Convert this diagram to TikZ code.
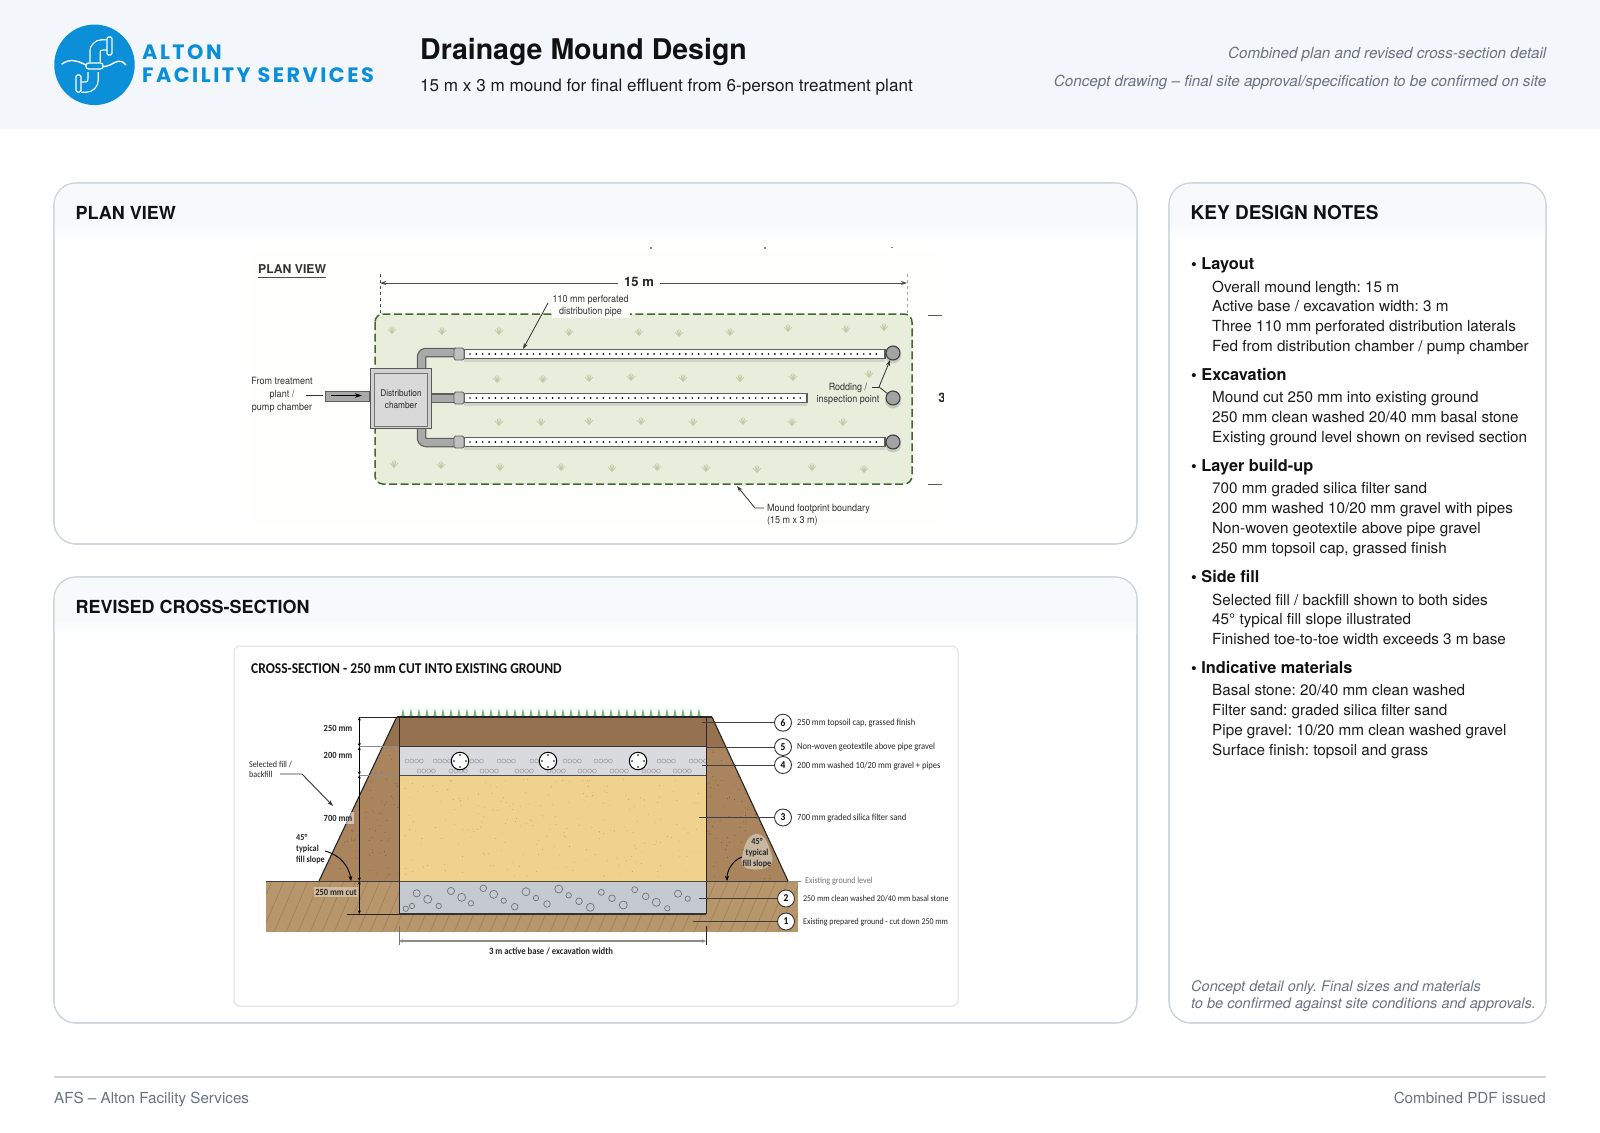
\documentclass[tikz,border=0pt]{standalone}
\usepackage{fontspec}
\setmainfont{TeX Gyre Heros}
\frenchspacing
\newfontfamily\carl[FakeStretch=0.9]{Carlito}
\newfontfamily\imgf[FakeStretch=0.9]{TeX Gyre Heros}
\newfontfamily\logof[LetterSpace=12]{Poppins}
\usetikzlibrary{arrows.meta,calc}
\definecolor{hdrbg}{HTML}{F3F7FB}
\definecolor{panelline}{HTML}{CBD2DA}
\definecolor{bandbg}{HTML}{F7F9FB}
\definecolor{ink}{HTML}{111111}
\definecolor{body}{HTML}{1C1C1C}
\definecolor{greytx}{HTML}{6B7280}
\definecolor{logoblue}{HTML}{0B8FD8}
\definecolor{moundg}{HTML}{E8EDDC}
\definecolor{moundb}{HTML}{3F6A2A}
\definecolor{tuft}{HTML}{BECBA3}
\definecolor{pipeg}{HTML}{A9A9A9}
\definecolor{pipeo}{HTML}{5E5E5E}
\definecolor{ground}{HTML}{B8966B}
\definecolor{hatchc}{HTML}{9C7C56}
\definecolor{fillb}{HTML}{A9845C}
\definecolor{topsoil}{HTML}{96714F}
\definecolor{gravelc}{HTML}{D8DADD}
\definecolor{sandc}{HTML}{F0D28E}
\definecolor{basalc}{HTML}{C5CAD0}
\definecolor{dimc}{HTML}{333333}
\definecolor{offw}{HTML}{FEFEFD}
\newcommand{\fz}[1]{\fontsize{#1}{#1}\selectfont}
\newcommand{\Tuft}[2]{\begin{scope}[shift={(#1,#2)}]
 \draw[tuft,line width=.75] (0,3.5)--(-4,-1) (0,3.5)--(-2,-3) (0,3.5)--(0,-4) (0,3.5)--(2,-3) (0,3.5)--(4,-1);
 \end{scope}}
\newcommand{\ChainG}[2]{\foreach \k in {0,1,2,3} \draw[gray!75,line width=.55] ({#1+2+\k*4.8},#2) circle (2);}
\newcommand{\Pperf}[3]{% lateral: end x, y, name
 \fill[black,opacity=.10] (464,#2-1) rectangle (#1,#2+8);
 \node[pipeb,minimum width=#1-464,anchor=west] (#3) at (464,#2) {};
 \foreach \px in {470,476.35,...,#1} {\ifdim\px pt<\dimexpr#1pt-6pt\relax\fill[black] (\px,#2) circle (.95);\fi}
 \node[coupl] (#3c) at (459,#2) {};
}
\newcommand{\Rod}[3]{\fill[black,opacity=.14] (893,#1+2.5) circle (8);
 \node[rodp] (#2) at (893,#1) {};}
\newcommand{\NH}[3]{\node[noteh] (#1) at (1191,#2) {•\ \ignorespaces#3};}
\newcommand{\NL}[3]{\node[notet] (#1) at (1212,#2) {#3};}
\newcommand{\CallC}[4]{\node[callc] (#1) at (#2,#3) {#4};}
\tikzset{
 panel/.style={draw=panelline,line width=1.1,rounded corners=22,fill=white},
 ptitle/.style={anchor=west,font=\bfseries\fz{18},text=ink,inner sep=0},
 noteh/.style={anchor=base west,yshift=-5.7pt,font=\bfseries\fz{16.3},text=ink,inner sep=0},
 notet/.style={anchor=base west,yshift=-5.4pt,font=\fz{15.25},text=body,inner sep=0},
 imgt/.style={font=\imgf\fz{10},text=black!80,inner sep=0,align=center},
 seclab/.style={font=\carl\bfseries\fz{9.4},text=black!85,inner sep=0,align=center},
 secnote/.style={anchor=west,font=\carl\fz{9.4},text=black!85,inner sep=0},
 callc/.style={circle,draw=black!80,fill=white,line width=.9,minimum size=17,inner sep=0,font=\carl\bfseries\fz{10.5}},
 lead/.style={draw=dimc,line width=.8},
 leadar/.style={draw=dimc,line width=.8,-{Stealth[length=6pt,width=4pt]}},
 dimar/.style={draw=black,line width=.7,{Stealth[length=3.5pt,width=3pt]}-{Stealth[length=3.5pt,width=3pt]}},
 pipeb/.style={draw=pipeo,line width=1.4,fill=white,minimum height=8.5,inner sep=0,outer sep=0},
 coupl/.style={draw=pipeo,line width=.8,fill=black!25,minimum width=10,minimum height=12,rounded corners=1.5,inner sep=0},
 rodp/.style={circle,draw=black!75,line width=1.1,fill=black!36,minimum size=14,inner sep=0},
 pipeo/.style={draw=pipeo,line width=9.5,line join=round,rounded corners=4},
 pipei/.style={draw=pipeg,line width=7,line join=round,rounded corners=4},
 lw/.style={draw=white,line width=1.3,line cap=round,line join=round},
}
\begin{document}
\begin{tikzpicture}[x=1pt,y=-1pt]
\useasboundingbox (0,0) rectangle (1600,1132);
\fill[white] (0,0) rectangle (1600,1132);
% header
\fill[hdrbg] (0,0) rectangle (1600,129);
% logo
\node[circle,fill=logoblue,minimum size=80.5,inner sep=0] (logoc) at (94.5,64.8) {};
\begin{scope}
 \draw[white,line width=11.5,line cap=butt,rounded corners=7] (95,62)--(95,45)--(108,45);
 \draw[logoblue,line width=9,line cap=butt,rounded corners=7] (95,63)--(95,45)--(109,45);
 \draw[white,line width=11.5,line cap=butt,rounded corners=7] (93,72)--(93,87)--(81,87);
 \draw[logoblue,line width=9,line cap=butt,rounded corners=7] (93,71)--(93,87)--(80,87);
 \node[draw=white,fill=logoblue,line width=1.2,minimum width=5,minimum height=18,rounded corners=1.5,inner sep=0] (logof1) at (109.5,46) {};
 \node[draw=white,fill=logoblue,line width=1.2,minimum width=5,minimum height=17,rounded corners=1.5,inner sep=0] (logof2) at (78.5,83.5) {};
 \draw[lw,line width=1.4] (62,64) .. controls (70,58) and (78,61) .. (86,65) .. controls (93,68) and (102,68) .. (110,65) .. controls (116,62) and (120,58) .. (126,65);
 \node[draw=white,fill=logoblue,line width=1.2,minimum width=17,minimum height=6,rounded corners=2.5,inner sep=0] (logof3) at (94.5,66) {};
\end{scope}
\node[anchor=west,inner sep=0,font=\logof\bfseries\fz{20.8},text=logoblue] (alton) at (142,52.5) {ALTON};
\node[anchor=west,inner sep=0,font=\logof\bfseries\fz{20.8},text=logoblue] (afs) at (142,75) {FACILITY SERVICES};
\node[anchor=west,inner sep=0,font=\bfseries\fz{28.5},text=ink] (title) at (420,52) {Drainage Mound Design};
\node[anchor=west,inner sep=0,font=\fz{17.1},text=body] (subtitle) at (420,87.5) {15 m x 3 m mound for final effluent from 6-person treatment plant};
\node[anchor=east,inner sep=0,font=\itshape\fz{15.2},text=greytx] (hr1) at (1546.5,54.5) {Combined plan and revised cross-section detail};
\node[anchor=east,inner sep=0,font=\itshape\fz{15.2},text=greytx] (hr2) at (1546.5,82.5) {Concept drawing – final site approval/specification to be confirmed on site};
% panels
\foreach \nm/\xa/\ya/\xb/\yb in {pa/54/183/1137/544,pb/54/577/1137/1023,pc/1169/183/1546/1023}{
 \path[panel] (\xa,\ya) rectangle (\xb,\yb);
 \begin{scope}
  \clip[rounded corners=22] (\xa,\ya) rectangle (\xb,\yb);
  \fill[bandbg] (\xa,\ya) rectangle (\xb,\ya+42);
  \shade[top color=bandbg,bottom color=white] (\xa,\ya+42) rectangle (\xb,\ya+56);
 \end{scope}
 \draw[draw=panelline,line width=1.1,rounded corners=22] (\xa,\ya) rectangle (\xb,\yb);
}
\node[ptitle] (tp) at (75.5,212.5) {PLAN VIEW};
\node[ptitle] (tc) at (75.5,606.5) {REVISED CROSS-SECTION};
\node[ptitle,font=\bfseries\fz{19}] (tn) at (1190.5,212.5) {KEY DESIGN NOTES};
% ---------- PLAN IMAGE
\fill[offw] (250,250) rectangle (943,526);
\node[anchor=west,inner sep=0,font=\bfseries\fz{12.2},text=black!80] (ptit) at (258,269) {PLAN VIEW};
\draw[black!70,line width=1.2] (258,277.5)--(326,277.5);
\fill[black] (651,248) circle (.9) (765,248) circle (.9) (892,247.5) circle (.6);
% mound
\draw[moundb,fill=moundg,line width=1.5,dash pattern=on 8pt off 3.5pt,rounded corners=8] (375,314) rectangle (912,484);
\foreach \a/\b in {392/330,442/331,499/331,569/332,639/332,679/333,730/332,788/328,846/329,884/327,
 497/379,543/379,589/378,631/377,683/378,740/378,793/377,869/374,
 499/422,541/422,589/421,641/421,693/422,743/421,792/422,843/422,
 394/464,441/465,500/467,561/467,612/468,657/467,706/468,757/469,812/467,864/469}{\Tuft{\a}{\b}}
% dimension 15 m
\coordinate (d15a) at (380,283); \coordinate (d15b) at (907,283);
\draw[black!70,line width=.8,dashed] (380,274)--(380,313);
\draw[black!35,line width=.8,dashed] (907,274)--(907,313);
\node[inner sep=0,font=\bfseries\fz{13},text=black!85] (l15) at (639,281.5) {15 m};
\draw[black!70,line width=.9,-{Stealth[length=6pt,width=4pt]}] (l15.west)++(-6,1.5) -- (d15a);
\draw[black!70,line width=.9,-{Stealth[length=6pt,width=4pt]}] (l15.east)++(6,1.5) -- (d15b);
% side ticks and cut off 3
\draw[black!65,line width=.9] (928,315)--(942,315) (928,484)--(942,484);
\begin{scope}
 \clip (930,385) rectangle (943,410);
 \node[inner sep=0,font=\bfseries\fz{13},text=black!85] (l3) at (942,398) {3};
\end{scope}
% feed pipes
\draw[pipeo] (421.5,372)--(421.5,352.5)--(456,352.5);
\draw[pipei] (421.5,372)--(421.5,352.5)--(456,352.5);
\draw[pipeo] (428,398)--(456,398);
\draw[pipei] (428,398)--(456,398);
\draw[pipeo] (421.5,425)--(421.5,442.5)--(456,442.5);
\draw[pipei] (421.5,425)--(421.5,442.5)--(456,442.5);
% laterals
\Pperf{885}{354}{lat1}
\Pperf{807}{398}{lat2}
\Pperf{885}{442}{lat3}
\Rod{353}{rod1}{}
\Rod{398}{rod2}{}
\Rod{442}{rod3}{}
% inlet
\node[draw=pipeo,fill=pipeg,line width=.9,minimum width=44,minimum height=10,inner sep=0,anchor=east] (inlet) at (370,396) {};
\draw[black,line width=.8,-{Stealth[length=7pt,width=4.5pt]}] (331,395.5)--(362,395.5);
% chamber
\node[draw=black!65,fill=black!18,line width=1.2,minimum width=61,minimum height=60,inner sep=0,anchor=center] (chamb) at (401,398.5) {};
\node[draw=black!55,fill=black!15,line width=.8,minimum width=53,minimum height=53,inner sep=0,font=\imgf\fz{9.2},text=black!85,align=center] (chambin) at (401,399.5) {Distribution\\[3pt]chamber};
% plan texts
\node[imgt,fill=offw,inner xsep=1,inner ysep=1] (lbl110) at (590.5,306) {110 mm perforated\\[2.4pt]distribution pipe};
\coordinate (a110) at (523,349); \coordinate (a110s) at (548,303);
\draw[leadar] (a110s) -- (a110);
\node[imgt] (lblfrom) at (282,395) {From treatment\\[2.8pt]plant /\\[2.8pt]pump chamber};
\draw[lead] (306,395)--(323,395);
\node[imgt] (lblrod) at (848,394) {Rodding /\\[2.4pt]inspection point};
\coordinate (rj) at (879,387);
\draw[lead] (872,387)--(rj);
\draw[leadar] (rj)--(rod1);
\draw[lead] (rj)--(888,394);
\node[imgt,anchor=west,align=left] (lblm) at (767,515) {Mound footprint boundary\\[2.4pt](15 m x 3 m)};
\coordinate (am) at (737,486);
\draw[draw=dimc,line width=.8,-{Stealth[length=6pt,width=4pt]}] (764,508)--(755,508)--(am);
% ---------- SECTION IMAGE
\draw[draw=black!12,line width=1,rounded corners=6] (234,646) rectangle (958,1006);
\node[anchor=west,inner sep=0,font=\carl\bfseries\fz{15},text=ink] (stit) at (251,669) {CROSS-SECTION - 250 mm CUT INTO EXISTING GROUND};
% ground
\fill[ground] (266,881) rectangle (798,932);
\begin{scope}
 \clip (266,881) rectangle (798,932);
 \foreach \x in {250,262,...,800} \draw[hatchc,line width=.55] (\x,932)--(\x+22,881);
\end{scope}
% mound fill
\fill[fillb] (319,881)--(396.7,717)--(712,717)--(788,881)--cycle;
\fill[topsoil] (382.9,746.5)--(396.7,717)--(712,717)--(725.5,746.5)--cycle;
\pgfmathsetseed{11}
\begin{scope}
 \clip (319,881)--(382.9,746.5)--(725.5,746.5)--(788,881)--cycle;
 \foreach \i in {1,...,110}{ \pgfmathsetmacro\px{330+rnd*70}\pgfmathsetmacro\py{750+rnd*130}\fill[black!35!fillb] (\px,\py) circle (.45); }
 \foreach \i in {1,...,110}{ \pgfmathsetmacro\px{706+rnd*70}\pgfmathsetmacro\py{750+rnd*130}\fill[black!35!fillb] (\px,\py) circle (.45); }
\end{scope}
% layers
\fill[topsoil] (399,717) rectangle (706,746);
\fill[gravelc] (399,746) rectangle (706,775);
\fill[sandc] (399,775) rectangle (706,881);
\foreach \i in {1,...,220}{ \pgfmathsetmacro\px{402+rnd*300}\pgfmathsetmacro\py{779+rnd*98}\fill[black!28!sandc] (\px,\py) circle (.4); }
\fill[basalc] (399,881) rectangle (706,914);
% grass
\foreach \x in {403,411,...,699}{\fill[black!10!green!45!gray!80] (\x-1.9,717)--(\x,708.5)--(\x+1.9,717)--cycle;}
% gravel chains
\foreach \a in {405,433,465,497,530,563,594,657,689}{\ChainG{\a}{761}}
\foreach \a in {417,449,480,515,547,578,610,642,673}{\ChainG{\a}{771}}
% stones
\foreach \a/\b/\r in {416.7/893.3/3.6,427.7/899.3/4,412/906/2.7,405.7/908.7/2.7,438.7/906/2.7,451/891/3.6,461.7/897.3/4,471/903.3/2.7,
 483.3/888.3/3.3,493.7/894.3/4,503.7/900.7/2.7,514.7/906.7/3.3,526/891.7/4,536/898/2.7,547/904/3.3,558.7/889/4,568.7/895.3/2.7,579/901.3/3.3,590.3/907.3/4,601.3/892.3/3,612/898.3/3.3,623.3/905/4,634.7/889.7/3,645.7/896.3/3.3,656.3/902.3/4,667.3/908.3/2.7,678/893.7/3.6,687.7/898.7/2.7}{
 \draw[black!55,line width=.7] (\a,\b) circle (\r);}
% lines of layers
\draw[black!85,line width=1.2] (396.7,717)--(712,717);
\draw[black!80,line width=1.2] (399,746.3)--(706,746.3);
\draw[black!70,line width=1] (399,775)--(706,775);
\draw[black!40!sandc!60!black,line width=1] (399,881)--(706,881);
\draw[black!80,line width=1.2] (399,914)--(706,914);
\draw[black!85,line width=1] (399,717)--(399,914) (706,717)--(706,914);
\draw[black!85,line width=1.1] (396.7,717)--(319,881) (712,717)--(788,881);
\draw[black!75,line width=1] (266,881)--(399,881) (706,881)--(788,881);
% pipes in section
\foreach \a/\nm in {460/sp1,548/sp2,638/sp3}{
 \node[circle,draw=black,fill=white,line width=1,minimum size=17.5,inner sep=0] (\nm) at (\a,761) {};
 \foreach \d in {0,90,180,270}\fill[black] (\nm.center)++(\d:6) circle (.8);
}
% left dims
\coordinate (dt) at (359.3,717); \coordinate (d1) at (359.3,746.7); \coordinate (d2) at (359.3,775); \coordinate (d3) at (359.3,881); \coordinate (d4) at (359.3,914);
\draw[black!85,line width=.8] (dt)--(396.7,717);
\draw[black!45,line width=.8] (d1)--(399,746.7) (d2)--(399,775);
\draw[black!85,line width=.8] (347,914)--(399,914);
\draw[dimar] (dt)--(d1);
\draw[dimar] (d1)--(d2);
\draw[dimar] (d2)--(d3);
\draw[dimar] (d3)--(d4);
\node[seclab] (s250) at (338,728) {250 mm};
\node[seclab] (s200) at (338,755.5) {200 mm};
\fill[white,opacity=.5] (343,812) rectangle (354,824);
\node[seclab] (s700) at (338,818) {700 mm};
\node[seclab,fill=ground!65,inner xsep=1.5,inner ysep=1.5] (s250c) at (336,892) {250 mm cut};
\node[secnote,align=left,font=\carl\fz{9}] (sel) at (249,769.5) {Selected fill /\\[1.5pt]backfill};
\coordinate (sela) at (333,806);
\draw[draw=dimc,line width=.9,-{Stealth[length=6pt,width=4pt]}] (280,774)--(302,774)--(sela);
\node[seclab,anchor=west,align=left,font=\carl\bfseries\fz{9.1}] (s45l) at (296,849) {45°\\[1.5pt]typical\\[1.5pt]fill slope};
\coordinate (s45la) at (351,881);
\draw[draw=black,line width=.9,-{Stealth[length=5pt,width=4pt]}] (325,851) .. controls (340,855) and (349,866) .. (s45la);
% right bubble
\fill[ground!55!white!92!black] (757,834) .. controls (766,834) and (769,847) .. (772,856) .. controls (775,866) and (764,870) .. (755,869.5) .. controls (745,869.5) and (740,866) .. (742,857) .. controls (744,845) and (748,834) .. (757,834) -- cycle;
\node[seclab,font=\carl\bfseries\fz{9.1}] (s45r) at (757,853) {45°\\[1.5pt]typical\\[1.5pt]fill slope};
\coordinate (s45ra) at (727,881);
\draw[draw=black,line width=.9,-{Stealth[length=5pt,width=4pt]}] (742,857) .. controls (733,860) and (727,870) .. (s45ra);
% callouts
\CallC{c6}{783}{722.7}{6} \CallC{c5}{783}{747}{5} \CallC{c4}{783}{765}{4} \CallC{c3}{783}{817.5}{3} \CallC{c2}{786}{898.5}{2} \CallC{c1}{786}{921.5}{1}
\coordinate (e6) at (702,722.7); \coordinate (e5) at (706,747); \coordinate (e4) at (702,765); \coordinate (e3) at (699,817.5); \coordinate (e2) at (699,898.5); \coordinate (e1) at (693,921.5);
\draw[black!75,line width=.9] (e6)--(c6) (e5)--(c5) (e4)--(c4) (e3)--(c3) (e2)--(c2) (e1)--(c1);
\node[secnote] (t6) at (797,723.5) {250 mm topsoil cap, grassed finish};
\node[secnote] (t5) at (797,747.5) {Non-woven geotextile above pipe gravel};
\node[secnote] (t4) at (797,766.3) {200 mm washed 10/20 mm gravel + pipes};
\node[secnote] (t3) at (797,818.5) {700 mm graded silica filter sand};
\node[secnote,text=black!55,font=\carl\fz{9}] (tg) at (805,881) {Existing ground level};
\node[secnote,font=\carl\fz{8.8}] (t2) at (803,899) {250 mm clean washed 20/40 mm basal stone};
\node[secnote,font=\carl\fz{8.8}] (t1) at (803,922) {Existing prepared ground - cut down 250 mm};
\draw[black!45,line width=.9] (788,881)--(801,881);
% bottom dim
\coordinate (ba) at (399,941); \coordinate (bb) at (706,941);
\draw[black!55,line width=.9] (399,926)--(399,945);
\draw[black!85,line width=.9] (706,926)--(706,945);
\draw[draw=black!45,line width=1.3,{Stealth[length=4pt,width=3.5pt]}-{Stealth[length=4pt,width=3.5pt]}] (ba)--(bb);
\node[seclab,font=\carl\bfseries\fz{9.6}] (sbase) at (551,951) {3 m active base / excavation width};
% ---------- NOTES
\NH{h1}{263.5}{Layout}
\NL{n11}{287}{Overall mound length: 15 m}
\NL{n12}{306}{Active base / excavation width: 3 m}
\NL{n13}{326}{Three 110 mm perforated distribution laterals}
\NL{n14}{346}{Fed from distribution chamber / pump chamber}
\NH{h2}{374.7}{Excavation}
\NL{n21}{397}{Mound cut 250 mm into existing ground}
\NL{n22}{417.5}{250 mm clean washed 20/40 mm basal stone}
\NL{n23}{437}{Existing ground level shown on revised section}
\NH{h3}{465.5}{Layer build-up}
\NL{n31}{488}{700 mm graded silica filter sand}
\NL{n32}{508.5}{200 mm washed 10/20 mm gravel with pipes}
\NL{n33}{528}{Non-woven geotextile above pipe gravel}
\NL{n34}{548}{250 mm topsoil cap, grassed finish}
\NH{h4}{576.5}{Side fill}
\NL{n41}{600}{Selected fill / backfill shown to both sides}
\NL{n42}{619.5}{45° typical fill slope illustrated}
\NL{n43}{639}{Finished toe-to-toe width exceeds 3 m base}
\NH{h5}{667.5}{Indicative materials}
\NL{n51}{690}{Basal stone: 20/40 mm clean washed}
\NL{n52}{710}{Filter sand: graded silica filter sand}
\NL{n53}{730}{Pipe gravel: 10/20 mm clean washed gravel}
\NL{n54}{750}{Surface finish: topsoil and grass}
\node[anchor=base west,inner sep=0,font=\itshape\fz{14.55},text=greytx] (cn1) at (1191,991) {Concept detail only. Final sizes and materials};
\node[anchor=base west,inner sep=0,font=\itshape\fz{14.55},text=greytx] (cn2) at (1191,1008) {to be confirmed against site conditions and approvals.};
% footer
\draw[black!18,line width=1.2] (54,1077)--(1546,1077);
\node[anchor=base west,inner sep=0,font=\fz{15.2},text=greytx] (fl) at (54,1103.5) {AFS – Alton Facility Services};
\node[anchor=base east,inner sep=0,font=\fz{15.2},text=greytx] (fr) at (1546,1103.5) {Combined PDF issued};
\end{tikzpicture}
\end{document}
